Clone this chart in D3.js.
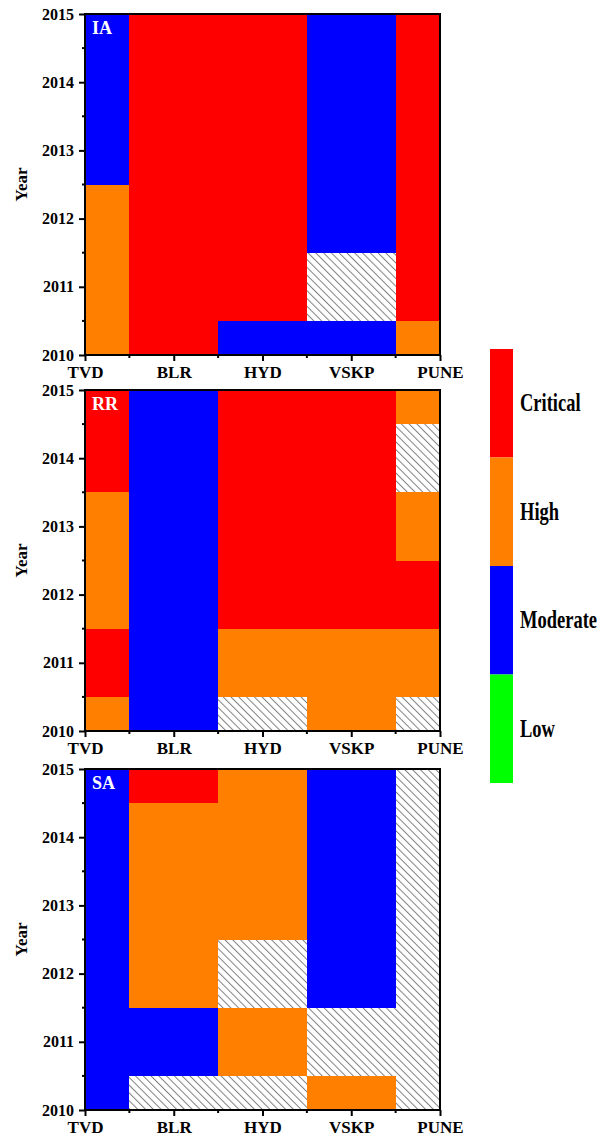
<!DOCTYPE html>
<html><head><meta charset="utf-8">
<script src="https://cdn.jsdelivr.net/npm/d3@7"></script>
<style>
html,body{margin:0;padding:0;background:#fff;}
svg{display:block;}
text{font-family:"Liberation Serif","Times New Roman",serif;font-weight:bold;}
</style></head>
<body>
<script>
// ---- data ----
const columns = ["TVD","BLR","HYD","VSKP","PUNE"];
const years = [2010,2011,2012,2013,2014,2015];
const yearTicks = [2010,2011,2012,2013,2014,2015];
const panelNames = ["IA","RR","SA"];
// C=Critical, H=High, M=Moderate, L=Low, N=no data (hatched); values per column for years 2010..2015
const iaValues = [
  ["H","H","H","M","M","M"],
  ["C","C","C","C","C","C"],
  ["M","C","C","C","C","C"],
  ["M","N","M","M","M","M"],
  ["H","C","C","C","C","C"]
];
const rrValues = [
  ["H","C","H","H","C","C"],
  ["M","M","M","M","M","M"],
  ["N","H","C","C","C","C"],
  ["H","H","C","C","C","C"],
  ["N","H","C","H","N","H"]
];
const saValues = [
  ["M","M","M","M","M","M"],
  ["N","M","H","H","H","C"],
  ["N","H","N","H","H","H"],
  ["H","N","M","M","M","M"],
  ["N","N","N","N","N","N"]
];
const legendLabels = ["Critical","High","Moderate","Low"];
const legendCodes = ["C","H","M","L"];
const colorMap = {C:"#ff0000",H:"#ff8000",M:"#0000ff",L:"#00ff00",N:"url(#hatch)"};

const W=609,H=1137;
const svg=d3.select("body").append("svg").attr("width",W).attr("height",H);
const defs=svg.append("defs");
const pat=defs.append("pattern").attr("id","hatch").attr("patternUnits","userSpaceOnUse")
  .attr("width",5.5).attr("height",5.5).attr("patternTransform","rotate(-45)");
pat.append("rect").attr("width",5.5).attr("height",5.5).attr("fill","#fff");
pat.append("line").attr("x1",0.5).attr("y1",0).attr("x2",0.5).attr("y2",5.5)
  .attr("stroke","#808080").attr("stroke-width",1);

const left=85,right=440,ph=341;
const tops=[14,390,769];
const allValues=[iaValues,rrValues,saValues];

const x=d3.scaleLinear().domain([0,columns.length-1]).range([left,right]);

allValues.forEach((vals,p)=>{
  const top=tops[p],bottom=top+ph;
  const y=d3.scaleLinear().domain([2010,2015]).range([bottom,top]);
  const g=svg.append("g");
  const cells=[];
  vals.forEach((col,ci)=>col.forEach((v,yi)=>cells.push({ci,yr:years[yi],v})));
  const rx=d=>Math.round(x(Math.max(0,d.ci-0.5)));
  const rx2=d=>Math.round(x(Math.min(columns.length-1,d.ci+0.5)));
  const ry=d=>Math.round(y(Math.min(2015,d.yr+0.5)));
  const ry2=d=>Math.round(y(Math.max(2010,d.yr-0.5)));
  g.selectAll("rect.cell").data(cells).enter().append("rect")
    .attr("x",rx).attr("width",d=>rx2(d)-rx(d))
    .attr("y",ry).attr("height",d=>ry2(d)-ry(d))
    .attr("fill",d=>colorMap[d.v])
    .attr("shape-rendering","crispEdges");

  // frame
  g.append("rect").attr("x",left).attr("y",top).attr("width",right-left).attr("height",ph)
    .attr("fill","none").attr("stroke","#000").attr("stroke-width",2);

  // y axis
  const ya=g.append("g").attr("transform",`translate(${left},0)`)
    .call(d3.axisLeft(y).tickValues(yearTicks).tickFormat(d3.format("d")).tickSize(6).tickSizeOuter(0).tickPadding(5));
  ya.select(".domain").remove();
  ya.selectAll(".tick line").attr("stroke-width",2);
  ya.selectAll(".tick text").attr("font-size",16).attr("fill","#000");
  const yMinor=d3.range(2010.5,2015,1);
  g.selectAll("line.ym").data(yMinor).enter().append("line")
    .attr("x1",left-3).attr("x2",left).attr("y1",d=>y(d)).attr("y2",d=>y(d))
    .attr("stroke","#000").attr("stroke-width",2);

  // x axis
  const xa=g.append("g").attr("transform",`translate(0,${bottom})`)
    .call(d3.axisBottom(x).tickValues(d3.range(columns.length)).tickFormat(i=>columns[i]).tickSize(6).tickSizeOuter(0).tickPadding(5));
  xa.select(".domain").remove();
  xa.selectAll(".tick line").attr("stroke-width",2);
  xa.selectAll(".tick text").attr("font-size",17).attr("fill","#000");
  const xMinor=d3.range(0.5,columns.length-1,1);
  g.selectAll("line.xm").data(xMinor).enter().append("line")
    .attr("y1",bottom).attr("y2",bottom+3).attr("x1",d=>x(d)).attr("x2",d=>x(d))
    .attr("stroke","#000").attr("stroke-width",2);

  // Year label
  g.append("text").attr("transform",`translate(27,${(top+bottom)/2}) rotate(-90)`)
    .attr("text-anchor","middle").attr("font-size",17).text("Year");

  // panel label
  g.append("text").attr("x",92).attr("y",top+20).attr("fill","#fff").attr("font-size",18).text(panelNames[p]);
});

// legend
const lgTop=349,lgBottom=783,lgX=490,lgW=23;
const ly=d3.scaleBand().domain(legendCodes).range([lgTop,lgBottom]).padding(0);
const lg=svg.append("g");
lg.selectAll("rect").data(legendCodes).enter().append("rect")
  .attr("x",lgX).attr("width",lgW).attr("y",d=>ly(d)).attr("height",ly.bandwidth())
  .attr("fill",d=>colorMap[d]);
lg.selectAll("text").data(legendLabels).enter().append("text")
  .attr("transform",(d,i)=>`translate(520,${ly(legendCodes[i])+ly.bandwidth()/2+8}) scale(0.74,1)`)
  .attr("font-size",25).text(d=>d);
</script>
</body></html>
